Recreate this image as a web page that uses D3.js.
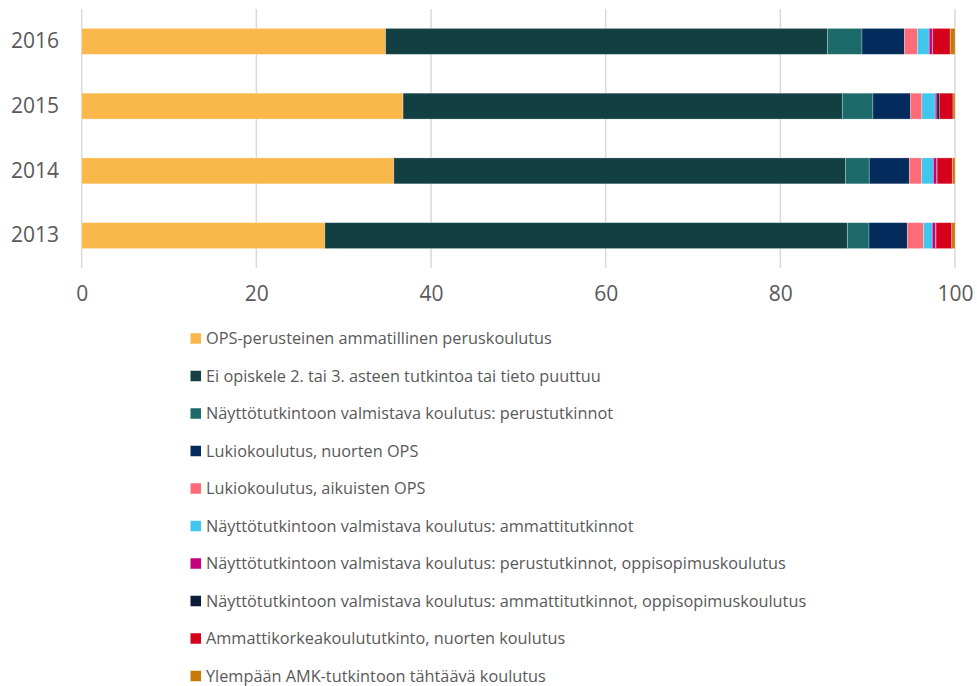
<!DOCTYPE html>
<html>
<head>
<meta charset="utf-8">
<script src="https://cdn.jsdelivr.net/npm/d3@7"></script>
<style>
  body { margin: 0; background: #fff; }
  svg text { font-family: "Open Sans", sans-serif; fill: #595959; }
</style>
</head>
<body>
<div id="chart"></div>
<script>
// years shown top to bottom
var years = ["2016", "2015", "2014", "2013"];

var seriesNames = [
    "OPS-perusteinen ammatillinen peruskoulutus",
    "Ei opiskele 2. tai 3. asteen tutkintoa tai tieto puuttuu",
    "Näyttötutkintoon valmistava koulutus: perustutkinnot",
    "Lukiokoulutus, nuorten OPS",
    "Lukiokoulutus, aikuisten OPS",
    "Näyttötutkintoon valmistava koulutus: ammattitutkinnot",
    "Näyttötutkintoon valmistava koulutus: perustutkinnot, oppisopimuskoulutus",
    "Näyttötutkintoon valmistava koulutus: ammattitutkinnot, oppisopimuskoulutus",
    "Ammattikorkeakoulututkinto, nuorten koulutus",
    "Ylempään AMK-tutkintoon tähtäävä koulutus"
];

var seriesColors = ["#fbb84a", "#123f42", "#1d6a6b", "#032c5c", "#ff6c77",
    "#41c7ec", "#c4007f", "#0b1c3b", "#d5001c", "#c67808"];

// one array per year, same order as seriesNames
var values2016 = [34.8, 50.6, 3.95, 4.85, 1.5, 1.35, 0.35, 0.05, 2.0, 0.55];
var values2015 = [36.8, 50.3, 3.5, 4.3, 1.3, 1.54, 0.2, 0.26, 1.57, 0.23];
var values2014 = [35.74, 51.73, 2.71, 4.59, 1.41, 1.34, 0.38, 0.05, 1.74, 0.31];
var values2013 = [27.84, 59.86, 2.45, 4.39, 1.86, 1.0, 0.38, 0.05, 1.8, 0.37];

var xTicks = [0, 20, 40, 60, 80, 100];

var svgWidth = 977;
var svgHeight = 686;

var svg = d3.select("#chart")
    .append("svg")
    .attr("width", svgWidth)
    .attr("height", svgHeight);

// build rows for d3.stack
var valuesByYear = { "2016": values2016, "2015": values2015, "2014": values2014, "2013": values2013 };
var rows = years.map(function (y) {
    var row = { year: y };
    seriesNames.forEach(function (name, i) { row[name] = valuesByYear[y][i]; });
    return row;
});

var stacked = d3.stack().keys(seriesNames)(rows);

var xScale = d3.scaleLinear()
    .domain([0, 100])
    .range([81.7, 955]);

var yScale = d3.scaleBand()
    .domain(years)
    .range([9, 268])
    .paddingInner(0.6)
    .paddingOuter(0.3);

// vertical gridlines
svg.append("g")
    .selectAll("line")
    .data(xTicks)
    .enter()
    .append("line")
    .attr("x1", d => xScale(d))
    .attr("x2", d => xScale(d))
    .attr("y1", 9)
    .attr("y2", 268)
    .attr("stroke", "#d9d9d9")
    .attr("stroke-width", 1.5);

// bars
svg.append("g")
    .selectAll("g")
    .data(stacked)
    .enter()
    .append("g")
    .attr("fill", (d, i) => seriesColors[i])
    .selectAll("rect")
    .data(d => d)
    .enter()
    .append("rect")
    .attr("x", d => xScale(d[0]))
    .attr("width", d => Math.max(0, xScale(d[1]) - xScale(d[0])))
    .attr("y", d => yScale(d.data.year))
    .attr("height", yScale.bandwidth())
    .attr("stroke", "#ffffff")
    .attr("stroke-opacity", 0.35)
    .attr("stroke-width", 0.75);

// x axis labels
var xAxis = d3.axisBottom(xScale).tickValues(xTicks).tickSize(0).tickPadding(0);
var xAxisGroup = svg.append("g")
    .attr("transform", "translate(0, 286)")
    .call(xAxis);
xAxisGroup.select(".domain").remove();
xAxisGroup.selectAll("text")
    .attr("font-size", "21px")
    .attr("font-family", "Open Sans, sans-serif")
    .attr("fill", "#595959")
    .attr("dy", "0.71em");

// y axis labels
var yAxis = d3.axisLeft(yScale).tickSize(0).tickPadding(0);
var yAxisGroup = svg.append("g")
    .attr("transform", "translate(59, 0)")
    .call(yAxis);
yAxisGroup.select(".domain").remove();
yAxisGroup.selectAll("text")
    .attr("font-size", "21px")
    .attr("font-family", "Open Sans, sans-serif")
    .attr("fill", "#595959");

// legend
var legend = svg.append("g")
    .selectAll("g")
    .data(seriesNames)
    .enter()
    .append("g")
    .attr("transform", (d, i) => `translate(190.5, ${338.5 + i * 37.5})`);

legend.append("rect")
    .attr("x", 0)
    .attr("y", -5.25)
    .attr("width", 10.5)
    .attr("height", 10.5)
    .attr("fill", (d, i) => seriesColors[i]);

legend.append("text")
    .attr("x", 15.5)
    .attr("y", 0)
    .attr("dy", "0.35em")
    .attr("font-size", "16.3px")
    .text(d => d);
</script>
</body>
</html>
